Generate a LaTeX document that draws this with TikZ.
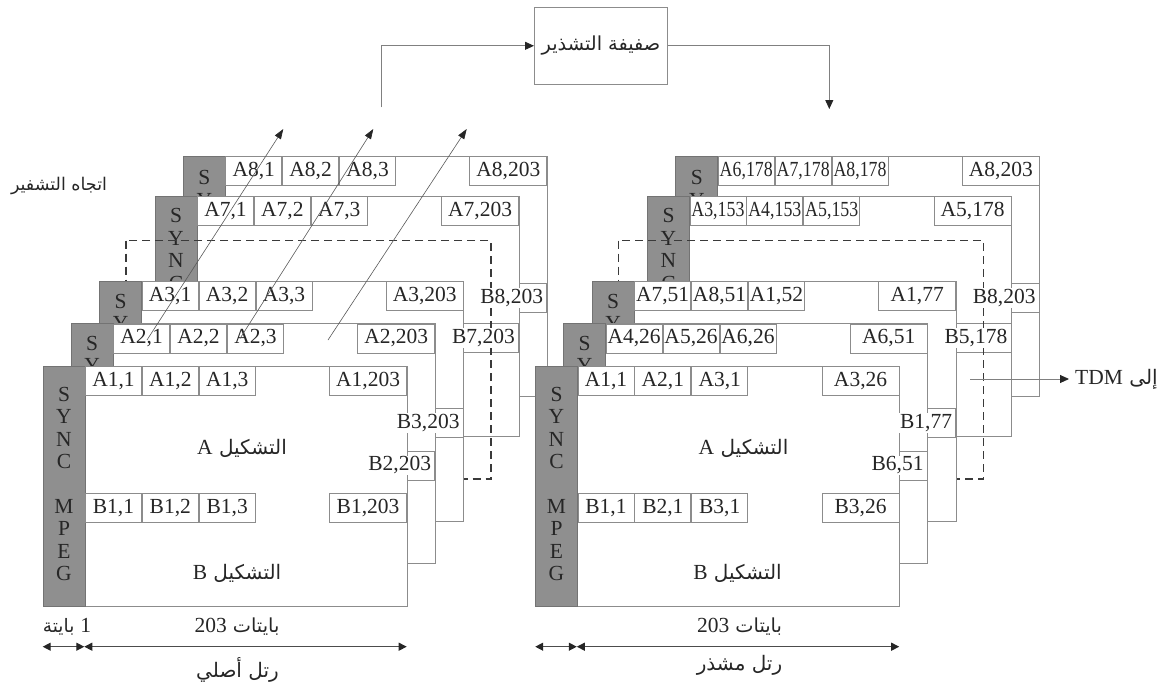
\documentclass[tikz,border=0pt]{standalone}
\usepackage{fontspec}
\setmainfont{Liberation Serif}
\newfontfamily\arabicfont[Script=Arabic]{DejaVu Sans}
\newfontfamily\narrowserif[FakeStretch=0.83]{Liberation Serif}
\TeXXeTstate=1
\usetikzlibrary{arrows.meta, positioning, calc}
\definecolor{linegray}{HTML}{8C8C8C}
\definecolor{syncgray}{HTML}{8F8F8F}
\definecolor{inkgray}{HTML}{262626}
\definecolor{dashgray}{HTML}{3A3A3A}

\newcommand{\cellfont}{\fontsize{21.5}{22.4}\selectfont}
\newcommand{\arfont}{\arabicfont\fontsize{20}{22}\selectfont}
\newcommand{\lattext}[1]{{\rmfamily\cellfont #1}}
\newcommand{\narrowlab}[1]{{\narrowserif #1}}

% one frame: white body and grey sync column
\newcommand{\tvframe}[5]{%
  \begin{scope}[shift={(#2,#3)}]
    \draw[framebody] (0,0) rectangle (364,240);
    \draw[syncbar] (0,0) rectangle (42,240);
    \node[synctext] (#1sync) at (21,#4) {#5};
  \end{scope}}

% one row of cells: three at the left, one at the right end
\newcommand{\cellrow}[7]{%
  \begin{scope}[shift={(#2,#3)}]
    \node[cell, anchor=north west] (#1c1) at (42,0) {#4};
    \node[cell, anchor=north west] (#1c2) at (#1c1.north east) {#5};
    \node[cell, anchor=north west] (#1c3) at (#1c2.north east) {#6};
    \node[cell, lastcell, anchor=north east] (#1cl) at (364,0) {#7};
  \end{scope}}

\begin{document}
\begin{tikzpicture}[x=1pt, y=-1pt,
  framebody/.style={draw=linegray, line width=0.9pt, fill=white},
  syncbar/.style={draw=black!55, fill=syncgray, line width=0.9pt},
  synctext/.style={anchor=north, inner sep=0pt, align=center,
    font=\cellfont, text=inkgray},
  cell/.style={draw=linegray, fill=white, line width=0.9pt,
    minimum width=56pt, minimum height=29pt, inner sep=0pt,
    font=\cellfont, text=inkgray},
  lastcell/.style={minimum width=77pt},
  toplabel/.style={fill=white, inner sep=1pt, font=\cellfont, text=inkgray},
  dashframe/.style={draw=dashgray, line width=1.4pt,
    dash pattern=on 8pt off 5pt},
  arlabel/.style={font=\arfont, text=inkgray},
  ilvbox/.style={draw=linegray, line width=1pt, minimum width=133pt,
    minimum height=77pt, inner sep=0pt, font=\arfont, text=inkgray},
  conn/.style={draw=black!50, line width=0.9pt,
    -{Triangle[length=9pt, width=8pt, color=inkgray]}},
  diag/.style={draw=black!65, line width=0.6pt,
    -{Triangle[length=10pt, width=7pt, color=inkgray]}},
  dimline/.style={draw=black!70, line width=1.2pt,
    {Triangle[length=8pt, width=8pt, color=inkgray]}-{Triangle[length=8pt, width=8pt, color=inkgray]}}]
  \useasboundingbox (0,0) rectangle (1167,688);

  % Original frames, back to front
  \tvframe{L8}{183.3}{156}{14.5}{S\\Y}
  \cellrow{L8a}{183.3}{156}{A8,1}{A8,2}{A8,3}{A8,203}
  \cellrow{L8b}{183.3}{283}{}{}{}{}
  \tvframe{L7}{155}{196}{12.5}{S\\Y\\N\\C}
  \cellrow{L7a}{155}{196}{A7,1}{A7,2}{A7,3}{A7,203}
  \cellrow{L7b}{155}{323}{}{}{}{}
  \draw[dashframe] (126,240.5) rectangle (491,479);
  \tvframe{L3}{99.7}{281}{12.8}{S\\Y}
  \cellrow{L3a}{99.7}{281}{A3,1}{A3,2}{A3,3}{A3,203}
  \cellrow{L3b}{99.7}{408}{}{}{}{}
  \tvframe{L2}{71.2}{323.5}{12.5}{S\\Y}
  \cellrow{L2a}{71.2}{323.5}{A2,1}{A2,2}{A2,3}{A2,203}
  \cellrow{L2b}{71.2}{450.5}{}{}{}{}
  \tvframe{L1}{43}{366}{21}{S\\Y\\N\\C\\[22.4pt]M\\P\\E\\G}
  \cellrow{L1a}{43}{366}{A1,1}{A1,2}{A1,3}{A1,203}
  \cellrow{L1b}{43}{493}{B1,1}{B1,2}{B1,3}{B1,203}
  \node[arlabel] (L1fa) at (242,448) {\beginR التشكيل \lattext{A}\endR};
  \node[arlabel] (L1fb) at (237,573) {\beginR التشكيل \lattext{B}\endR};
  \node[toplabel, anchor=east, xshift=-3pt] (L8lab) at (L8bcl.east) {B8,203};
  \node[toplabel, anchor=east, xshift=-3pt] (L7lab) at (L7bcl.east) {B7,203};
  \node[toplabel, anchor=east, xshift=-3pt] (L3lab) at (L3bcl.east) {B3,203};
  \node[toplabel, anchor=east, xshift=-3pt] (L2lab) at (L2bcl.east) {B2,203};

  % Byte widths, original frame
  \coordinate (dl0) at (42.7,646.7);
  \coordinate (dl1) at (84.3,646.7);
  \coordinate (dl2) at (406.7,646.7);
  \draw[dimline] (dl0) -- (dl1);
  \draw[dimline] (dl1) -- (dl2);
  \node[arlabel, font=\arabicfont\fontsize{18.5}{20}\selectfont] (onebyte)
    at (67,626.7) {\beginR\lattext{1} بايتة\endR};
  \node[arlabel, font=\arabicfont\fontsize{19.3}{20}\selectfont] (bytesl)
    at (237,626.7) {\beginR بايتات \lattext{203}\endR};
  \node[arlabel] (origlab) at (237.5,670) {\beginR رتل أصلي\endR};

  % Interleaved frames
  \begin{scope}[xshift=492.5pt]
    \tvframe{R8}{183.3}{156}{14.5}{S\\Y}
    \cellrow{R8a}{183.3}{156}{\narrowlab{A6,178}}{\narrowlab{A7,178}}{\narrowlab{A8,178}}{A8,203}
    \cellrow{R8b}{183.3}{283}{}{}{}{}
    \tvframe{R7}{155}{196}{12.5}{S\\Y\\N\\C}
    \cellrow{R7a}{155}{196}{\narrowlab{A3,153}}{\narrowlab{A4,153}}{\narrowlab{A5,153}}{A5,178}
    \cellrow{R7b}{155}{323}{}{}{}{}
    \draw[dashframe] (126,240.5) rectangle (491,479);
    \tvframe{R3}{99.7}{281}{12.8}{S\\Y}
    \cellrow{R3a}{99.7}{281}{A7,51}{A8,51}{A1,52}{A1,77}
    \cellrow{R3b}{99.7}{408}{}{}{}{}
    \tvframe{R2}{71.2}{323.5}{12.5}{S\\Y}
    \cellrow{R2a}{71.2}{323.5}{A4,26}{A5,26}{A6,26}{A6,51}
    \cellrow{R2b}{71.2}{450.5}{}{}{}{}
    \tvframe{R1}{43}{366}{21}{S\\Y\\N\\C\\[22.4pt]M\\P\\E\\G}
    \cellrow{R1a}{43}{366}{A1,1}{A2,1}{A3,1}{A3,26}
    \cellrow{R1b}{43}{493}{B1,1}{B2,1}{B3,1}{B3,26}
    \node[arlabel] (R1fa) at (251,448) {\beginR التشكيل \lattext{A}\endR};
    \node[arlabel] (R1fb) at (245,573) {\beginR التشكيل \lattext{B}\endR};
    \node[toplabel, anchor=east, xshift=-3pt] (R8lab) at (R8bcl.east) {B8,203};
    \node[toplabel, anchor=east, xshift=-3pt] (R7lab) at (R7bcl.east) {B5,178};
    \node[toplabel, anchor=east, xshift=-3pt] (R3lab) at (R3bcl.east) {B1,77};
    \node[toplabel, anchor=east, xshift=-3pt] (R2lab) at (R2bcl.east) {B6,51};

    % Byte widths, interleaved frame
    \coordinate (dr0) at (42.7,646.7);
    \coordinate (dr1) at (84.3,646.7);
    \coordinate (dr2) at (406.7,646.7);
    \draw[dimline] (dr0) -- (dr1);
    \draw[dimline] (dr1) -- (dr2);
    \node[arlabel, font=\arabicfont\fontsize{19.3}{20}\selectfont] (bytesr)
      at (247,626.7) {\beginR بايتات \lattext{203}\endR};
    \node[arlabel] (ilvlab) at (247,665) {\beginR رتل مشذر\endR};
  \end{scope}

  % Coding direction
  \node[arlabel, font=\arabicfont\fontsize{17.5}{20}\selectfont] (dirlab)
    at (59,186) {\beginR اتجاه التشفير\endR};
  \coordinate (d1s) at (147,340);   \coordinate (d1e) at (283.3,129);
  \coordinate (d2s) at (240,338.5); \coordinate (d2e) at (373.3,129);
  \coordinate (d3s) at (328,340);   \coordinate (d3e) at (466.7,129);
  \draw[diag] (d1s) -- (d1e);
  \draw[diag] (d2s) -- (d2e);
  \draw[diag] (d3s) -- (d3e);

  % Interleaver
  \node[ilvbox, font=\arabicfont\fontsize{19.3}{21}\selectfont] (ilv)
    at (601,45.8) {\beginR صفيفة التشذير\endR};
  \coordinate (fbin) at (381,107.3);
  \coordinate (fbout) at (829.3,109);
  \draw[conn] (fbin) |- (ilv.west);
  \draw[conn] (ilv.east) -| (fbout);

  % Output to TDM
  \coordinate (tdmin) at (970,379);
  \node[arlabel, anchor=west, inner xsep=6pt, inner ysep=0pt] (tdm) at (1069,379)
    {\beginR إلى \lattext{TDM}\endR};
  \draw[conn] (tdmin) -- (tdm.west);
\end{tikzpicture}
\end{document}
